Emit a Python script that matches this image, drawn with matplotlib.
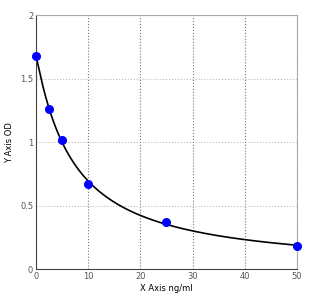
"""Curva estándar: OD frente a concentración, guardada como out.png."""

import matplotlib

matplotlib.use("Agg")

import matplotlib.pyplot as plt
import numpy as np

conc = [0, 2.5, 5, 10, 25, 50]
od = [1.68, 1.26, 1.02, 0.67, 0.37, 0.18]

x_ticks = [0, 10, 20, 30, 40, 50]
y_ticks = [0, 0.5, 1, 1.5, 2]


def _fit_4pl(x, y):
    """Ajuste 4PL por búsqueda en rejilla (b, c) y mínimos cuadrados para (a, d)."""
    x = np.asarray(x, float)
    y = np.asarray(y, float)
    best = None
    for b in np.linspace(0.5, 3.0, 126):
        for c in np.linspace(1.0, 60.0, 296):
            g = 1.0 / (1.0 + (x / c) ** b)
            A = np.column_stack([g, 1 - g])
            coef, *_ = np.linalg.lstsq(A, y, rcond=None)
            err = np.sum((A @ coef - y) ** 2)
            if best is None or err < best[0]:
                best = (err, coef[0], coef[1], b, c)
    _, a, d, b, c = best
    return lambda t: d + (a - d) / (1.0 + (t / c) ** b)


curve = _fit_4pl(conc, od)
xs = np.linspace(0, 50, 300)

fig = plt.figure(figsize=(3.27, 2.97), dpi=100)
ax = fig.add_axes([0.110, 0.094, 0.798, 0.855])

ax.plot(xs, curve(xs), color="black", lw=1.2, zorder=2)
ax.plot(conc, od, "o", color="#0000ff", ms=5.5, zorder=3, clip_on=False)

ax.set_xlim(0, 50)
ax.set_ylim(0, 2)
ax.set_xticks(x_ticks)
ax.set_yticks(y_ticks)
ax.set_yticklabels(["0", "0.5", "1", "1.5", "2"])
ax.tick_params(labelsize=6, length=0, pad=2, colors="#555555")
ax.xaxis.grid(True, ls=":", color="#777777", lw=0.8)
ax.yaxis.grid(True, ls=":", color="#bbbbbb", lw=0.8)
for side in ("top", "right"):
    ax.spines[side].set_color("#aaaaaa")
for side in ("left", "bottom"):
    ax.spines[side].set_color("#444444")

ax.set_xlabel("X Axis ng/ml", fontsize=6, labelpad=2)
ax.set_ylabel("Y Axis OD", fontsize=6, labelpad=4)

fig.savefig("out.png", dpi=100)
